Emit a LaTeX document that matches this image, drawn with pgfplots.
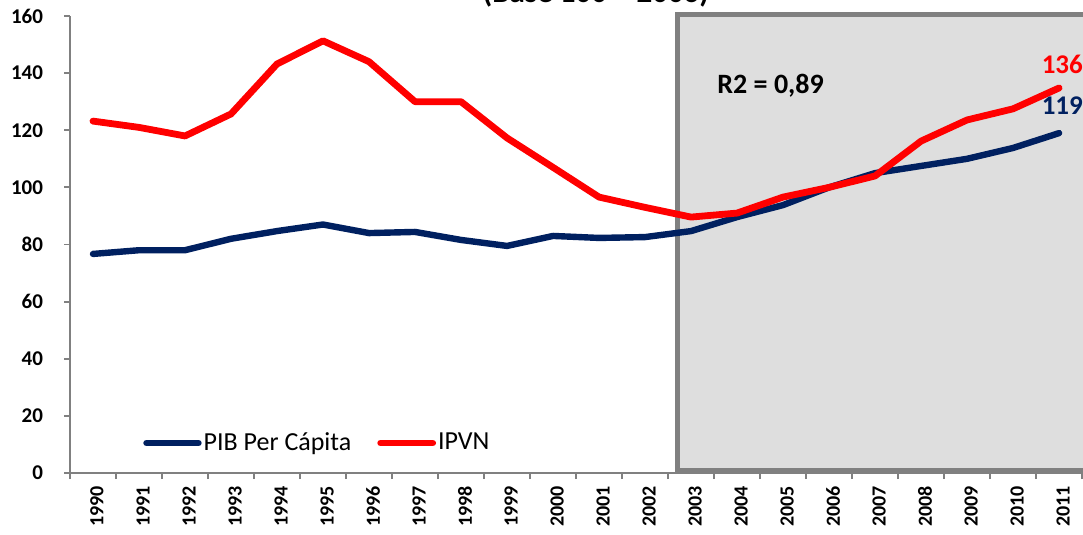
\documentclass[border=0pt]{standalone}
\usepackage{pgfplots}
\pgfplotsset{compat=1.18}
\usepackage{fontspec}
\setmainfont{Carlito}
\definecolor{navy}{HTML}{002060}
\definecolor{bordergray}{HTML}{808080}
\definecolor{boxfill}{HTML}{DEDEDE}
\pgfplotstableread{
x pib ipvn
0 76.7 123.2
1 78.0 121.0
2 78.0 118.0
3 82.0 125.7
4 84.7 143.2
5 87.0 151.3
6 84.0 144.0
7 84.4 130.0
8 81.6 130.0
9 79.5 117.3
10 83.0 107.0
11 82.3 96.6
12 82.6 93.0
13 84.7 89.6
14 89.6 91.0
15 93.8 96.6
16 100.0 100.0
17 105.0 104.0
18 107.5 116.2
19 110.0 123.6
20 113.8 127.5
21 119.0 134.8
}\datatable
\begin{document}
\begin{tikzpicture}
\begin{axis}[
  scale only axis, width=506pt, height=228.5pt,
  xmin=-0.5, xmax=21.5, ymin=0, ymax=160,
  clip=false,
  axis x line=bottom, axis y line=left,
  axis line style={-, bordergray, line width=0.9pt},
  xtick={0,...,21},
  xticklabels={1990,1991,1992,1993,1994,1995,1996,1997,1998,1999,2000,2001,2002,2003,2004,2005,2006,2007,2008,2009,2010,2011},
  minor xtick={-0.5,0.5,...,21.5},
  ytick={0,20,...,160},
  tick align=outside,
  major tick length=3pt, minor tick length=3pt,
  tick style={bordergray, line width=0.9pt},
  major x tick style={draw=none},
  /pgf/number format/assume math mode=true,
  xticklabel style={rotate=90, anchor=east, font=\bfseries\fontsize{10}{12}\selectfont, yshift=-2pt},
  yticklabel style={font=\bfseries\fontsize{10.5}{12}\selectfont, xshift=-7pt},
  legend style={at={(rel axis cs:0.072,0.0656)}, anchor=west, draw=none, fill=none,
    font=\fontsize{13}{15}\selectfont, inner xsep=0pt,
    nodes={inner sep=1pt},
    /tikz/every even column/.append style={column sep=12pt}},
  legend columns=2,
  legend image code/.code={\draw[#1, line cap=round] (0pt,0pt) -- (26pt,0pt);},
]
\fill[boxfill] (axis cs:12.7,1) rectangle (axis cs:23,160.4);
\draw[bordergray, line width=2.5pt] (axis cs:23,160.4) -- (axis cs:12.7,160.4) -- (axis cs:12.7,1) -- (axis cs:23,1);
\addplot[navy, line width=3.2pt, line join=round, line cap=round] table[x=x, y=pib] {\datatable};
\addlegendentry{PIB Per Cápita}
\addplot[red, line width=3.4pt, line join=round, line cap=round] table[x=x, y=ipvn] {\datatable};
\addlegendentry{IPVN}
\node[font=\bfseries\fontsize{14}{16}\selectfont, anchor=west, inner sep=0pt] at (axis cs:13.565,135.5) {R2 = 0,89};
\node[font=\bfseries\fontsize{13.5}{16}\selectfont, text=red] at (axis cs:21.07,143.2) {136};
\node[font=\bfseries\fontsize{13.5}{16}\selectfont, text=navy] at (axis cs:21.07,128.5) {119};
\node[font=\bfseries\fontsize{15.5}{18}\selectfont, anchor=base] at (axis cs:10.93,164.6) {(Base 100 = 2006)};
\coordinate (bbA) at (axis cs:-2.0217,165.6);
\coordinate (bbB) at (axis cs:21.52,-21.36);
\end{axis}
\pgfresetboundingbox
\path[use as bounding box] (bbA) rectangle (bbB);
\end{tikzpicture}
\end{document}
